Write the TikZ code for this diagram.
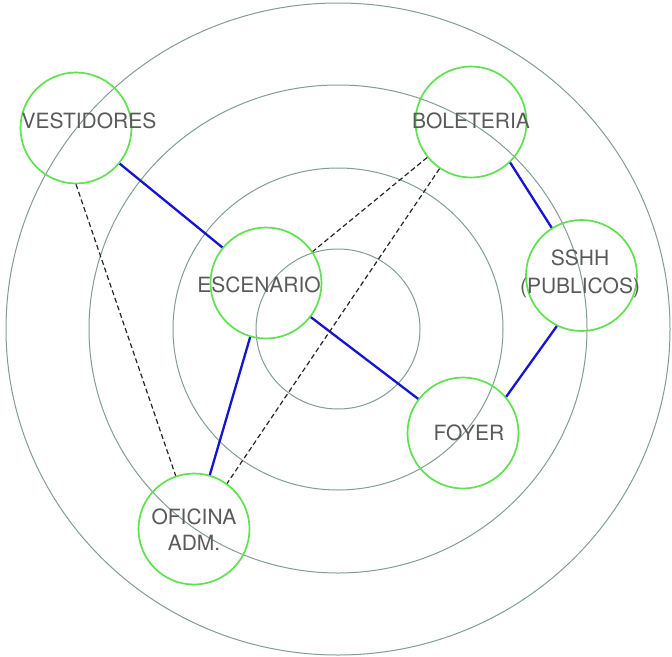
\documentclass[tikz,border=0pt]{standalone}
\usepackage{fontspec}
\setmainfont{TeX Gyre Heros}
\begin{document}
\begin{tikzpicture}[x=1pt,y=-1pt,
  ring/.style={draw=ringgray,line width=1pt},
  room/.style={circle,draw=roomgreen,line width=1.7pt,minimum size=111pt,inner sep=0pt},
  lbl/.style={anchor=base,text=textgray,font=\fontsize{21}{24}\selectfont,inner sep=0pt},
  strong/.style={draw=linkblue,line width=2.3pt},
  weak/.style={draw=black!85,line width=1.2pt,dash pattern=on 5pt off 3pt}]
\definecolor{ringgray}{RGB}{130,158,148}
\definecolor{roomgreen}{RGB}{95,225,80}
\definecolor{textgray}{RGB}{90,90,90}
\definecolor{linkblue}{RGB}{20,20,210}
\useasboundingbox (0,0) rectangle (672,656);
\fill[white] (0,0) rectangle (672,656);
% concentric rings
\coordinate (c) at (338,329);
\draw[ring] (c) ellipse [x radius=82, y radius=80];
\draw[ring] (c) ellipse [x radius=165, y radius=161];
\draw[ring] (c) ellipse [x radius=249, y radius=244];
\draw[ring] (c) ellipse [x radius=332, y radius=326];
% rooms
\node[room] (vest) at (76,128) {};
\node[room] (bol) at (471,122) {};
\node[room] (sshh) at (581.5,275.5) {};
\node[room] (esc) at (266,283) {};
\node[room] (foyer) at (463,433) {};
\node[room] (ofi) at (194,529) {};
% labels
\node[lbl] (tvest) at (89,128) {VESTIDORES};
\node[lbl] (tbol) at (471,128) {BOLETERIA};
\node[lbl] (tsshh) at (580,265) {SSHH};
\node[lbl] (tpub) at (580,293) {(PUBLICOS)};
\node[lbl] (tesc) at (259,292) {ESCENARIO};
\node[lbl] (tfoy) at (469,440) {FOYER};
\node[lbl] (tofi) at (194,524) {OFICINA};
\node[lbl] (tadm) at (194,550) {ADM.};
% strong links
\draw[strong] (vest) -- (esc);
\draw[strong] (esc) -- (ofi);
\draw[strong] (esc) -- (foyer);
\draw[strong] (bol.-46) -- (sshh.122);
\draw[strong] (sshh.-116) -- (foyer.40);
% weak links
\draw[weak] (vest.south) -- (ofi.109);
\draw[weak] (bol.-141) -- (esc.34);
\draw[weak] (bol.-124) -- (ofi.54);
\end{tikzpicture}
\end{document}
